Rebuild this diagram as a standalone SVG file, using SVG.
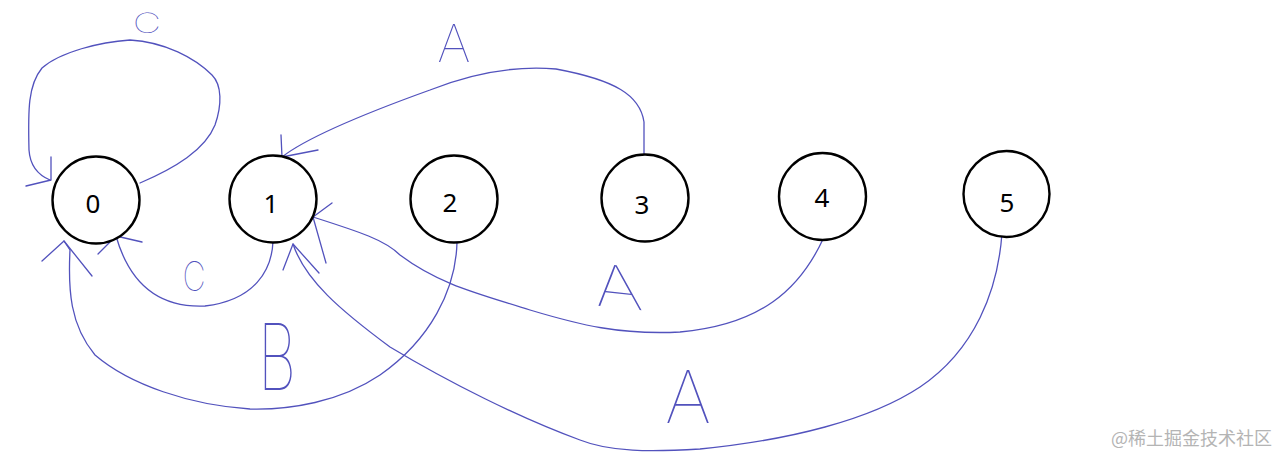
<svg xmlns="http://www.w3.org/2000/svg" width="1287" height="463" viewBox="0 0 1287 463">
<style>
.node circle{fill:#fff;stroke:#000;stroke-width:2.4}
.node text{font-family:"Noto Sans","Open Sans",sans-serif;font-size:26px;fill:#000;text-anchor:middle}
.edge{fill:none;stroke:#5252bd;stroke-width:1.3;stroke-linecap:round;stroke-linejoin:round}
.lbl{font-family:Inter,"Liberation Sans",sans-serif;font-weight:100;fill:#5252bd;text-anchor:middle}
.wm{font-family:"Noto Sans CJK SC",sans-serif;font-size:18px;fill:#b4b4b4}
</style>
<rect width="1287" height="463" fill="#fff"/>
<g id="connectors">
  <g id="e00">
    <path class="edge" d="M140,183 C175,168 205,150 215,125 C222,105 222,85 212,75 C195,58 165,42 130,40 C100,42 60,52 42,68 C28,85 28,110 29,150 C30,165 38,175 50,180"/>
    <path class="edge" d="M51,157 L51,180 L26,186"/>
    <text class="lbl" font-size="28" transform="translate(147,33) scale(1.4,1)">C</text>
  </g>
  <g id="e10">
    <path class="edge" d="M273,241 C272,270 255,300 205,306 C160,308 130,285 116,236"/>
    <path class="edge" d="M98,254 L116,236 L142,242"/>
    <text class="lbl" font-size="40" transform="translate(194,291) scale(0.8,1)">C</text>
  </g>
  <g id="e31">
    <path class="edge" d="M644,155 L644,122 C640,95 615,80 556,69 C520,66 480,70 430,90 C380,108 310,135 282,157"/>
    <path class="edge" d="M281,135 L282,157 L318,150"/>
    <text class="lbl" font-size="52" x="454" y="62">A</text>
  </g>
  <g id="e41">
    <path class="edge" d="M824,237 C800,290 760,325 680,332 C620,335 580,325 530,310 C480,294 440,285 400,255 C385,240 360,232 313,217"/>
    <path class="edge" d="M332,203 L313,217 L326,263"/>
    <text class="lbl" font-size="58" transform="translate(620,308) rotate(6) skewX(12) scale(1.3,1)">A</text>
  </g>
  <g id="e51">
    <path class="edge" d="M1002,233 C998,290 975,350 920,387 C870,420 790,440 700,449 C650,452 610,452 580,440 C520,418 450,383 390,347 C340,310 305,280 293,244"/>
    <path class="edge" d="M283,270 L293,244 L319,273"/>
    <text class="lbl" font-size="72" x="688" y="423">A</text>
  </g>
  <g id="e20">
    <path class="edge" d="M457,242 C456,290 430,340 380,375 C340,402 290,410 250,409 C190,405 130,385 95,355 C70,325 68,290 70,250 L64,241"/>
    <path class="edge" d="M42,261 L64,241 L92,276"/>
    <text class="lbl" font-size="92" transform="translate(277,390) scale(0.65,1)">B</text>
  </g>
</g>
<g id="n0" class="node"><circle cx="96" cy="200" r="43.5"/><text x="93" y="213">0</text></g>
<g id="n1" class="node"><circle cx="273" cy="199" r="43.5"/><text x="271" y="213">1</text></g>
<g id="n2" class="node"><circle cx="454" cy="199" r="43.5"/><text x="450" y="212">2</text></g>
<g id="n3" class="node"><circle cx="645" cy="198" r="43.5"/><text x="642" y="214">3</text></g>
<g id="n4" class="node"><circle cx="822.5" cy="196.5" r="43.5"/><text x="822" y="207">4</text></g>
<g id="n5" class="node"><circle cx="1006.5" cy="194" r="43"/><text x="1007" y="212">5</text></g>
<text class="wm" x="1111" y="445">@稀土掘金技术社区</text>
</svg>
